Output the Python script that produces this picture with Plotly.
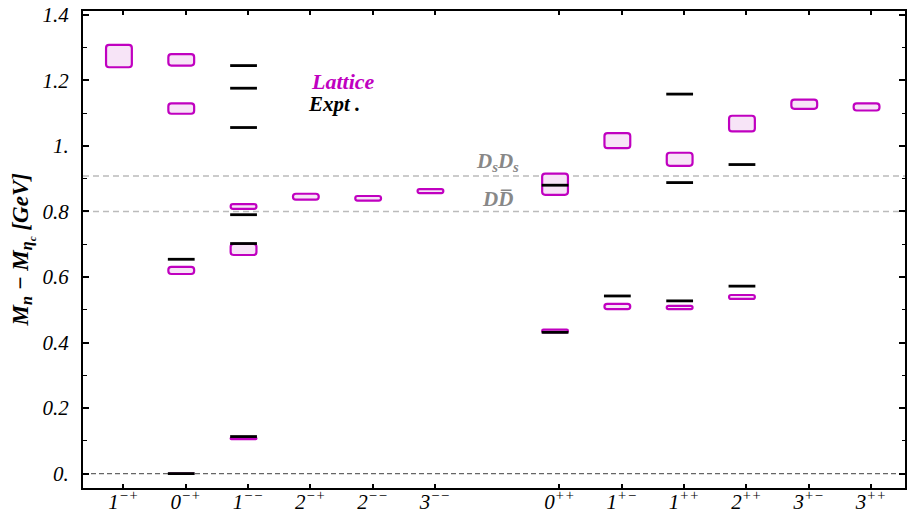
import plotly.graph_objects as go

# Quantum-number channels along the x axis (two groups separated by a gap)
channels = ["1<sup>−+</sup>", "0<sup>−+</sup>", "1<sup>−−</sup>", "2<sup>−+</sup>", "2<sup>−−</sup>", "3<sup>−−</sup>",
            "0<sup>++</sup>", "1<sup>+−</sup>", "1<sup>++</sup>", "2<sup>++</sup>", "3<sup>+−</sup>", "3<sup>++</sup>"]
channel_pos = [0, 1, 2, 3, 4, 5, 7, 8, 9, 10, 11, 12]

# Lattice mass splittings M_n - M_eta_c (GeV) and their uncertainties, per channel
lattice_mass = [
    [1.274],
    [0.0, 0.620, 1.114, 1.2625],
    [0.107, 0.684, 0.815],
    [0.845],
    [0.840],
    [0.862],
    [0.435, 0.883],
    [0.510, 1.016],
    [0.507, 0.959],
    [0.539, 1.068],
    [1.127],
    [1.119],
]
lattice_err = [
    [0.034],
    [0.0, 0.011, 0.016, 0.0175],
    [0.002, 0.017, 0.007],
    [0.009],
    [0.007],
    [0.006],
    [0.004, 0.0325],
    [0.008, 0.023],
    [0.005, 0.020],
    [0.006, 0.024],
    [0.014],
    [0.011],
]

# Experimental mass splittings (GeV)
expt_mass = [
    [],
    [0.0, 0.654],
    [0.113, 0.702, 0.790, 1.056, 1.176, 1.245],
    [],
    [],
    [],
    [0.431, 0.880],
    [0.542],
    [0.527, 0.888, 1.158],
    [0.572, 0.943],
    [],
    [],
]

# Two-meson thresholds (GeV)
threshold_dd = 0.800
threshold_dsds = 0.908

y_ticks = [0.0, 0.2, 0.4, 0.6, 0.8, 1.0, 1.2, 1.4]
y_tick_text = ["0.", "0.2", "0.4", "0.6", "0.8", "1.", "1.2", "1.4"]

# ---- geometry / style ----
W, H = 909, 511
M_L, M_R, M_T, M_B = 83, 4, 11, 23
X_RANGE = [-0.647, 12.547]
Y_RANGE = [-0.044, 1.4116]
MARK_SHIFT = -0.07        # levels sit slightly left of the tick
BOX_HALF = 0.207
LINE_HALF = 0.215
MAGENTA = "#c000c0"
PINK = "#f7e4f7"
GRAY_TXT = "#888888"

PLOT_W = W - M_L - M_R
PLOT_H = H - M_T - M_B
px_x = PLOT_W / (X_RANGE[1] - X_RANGE[0])
px_y = PLOT_H / (Y_RANGE[1] - Y_RANGE[0])


def rounded_box(xc, y0, y1, hw, r_px=3.0):
    x0, x1 = xc - hw, xc + hw
    h_px = (y1 - y0) * px_y
    r = min(r_px, h_px / 2.0)
    if r <= 0.05:
        return f"M{x0},{y0} L{x1},{y0} L{x1},{y1} L{x0},{y1} Z"
    rx, ry = r / px_x, r / px_y
    return (f"M{x0 + rx},{y0} L{x1 - rx},{y0} Q{x1},{y0} {x1},{y0 + ry} "
            f"L{x1},{y1 - ry} Q{x1},{y1} {x1 - rx},{y1} L{x0 + rx},{y1} "
            f"Q{x0},{y1} {x0},{y1 - ry} L{x0},{y0 + ry} Q{x0},{y0} {x0 + rx},{y0} Z")


shapes = []
# reference lines: zero and thresholds
shapes.append(dict(type="line", xref="paper", yref="y", x0=0, x1=1, y0=0, y1=0,
                   line=dict(color="#666666", width=1.3, dash="5px,3px"), layer="below"))
for thr in (threshold_dsds, threshold_dd):
    shapes.append(dict(type="line", xref="paper", yref="y", x0=0, x1=1, y0=thr, y1=thr,
                       line=dict(color="#bbbbbb", width=1.5, dash="6px,4px"), layer="below"))

# lattice levels as rounded boxes
for pos, masses, errs in zip(channel_pos, lattice_mass, lattice_err):
    xc = pos + MARK_SHIFT
    for m, e in zip(masses, errs):
        shapes.append(dict(type="path", xref="x", yref="y",
                           path=rounded_box(xc, m - e, m + e, BOX_HALF),
                           fillcolor=PINK, line=dict(color=MAGENTA, width=2.2), layer="below"))

fig = go.Figure()

# experimental levels as short black bars
ex, ey = [], []
for pos, masses in zip(channel_pos, expt_mass):
    xc = pos + MARK_SHIFT
    for m in masses:
        ex += [xc - LINE_HALF, xc + LINE_HALF, None]
        ey += [m, m, None]
fig.add_trace(go.Scatter(x=ex, y=ey, mode="lines", line=dict(color="black", width=2.8),
                         hoverinfo="skip", showlegend=False))

serif = "Liberation Serif"
annotations = [
    dict(text="Lattice", xref="paper", yref="paper", x=(309 - M_L) / PLOT_W,
         y=(H - M_B - 81) / PLOT_H, xanchor="left", yanchor="middle", showarrow=False,
         font=dict(family=serif, size=22, color=MAGENTA, style="italic", weight="bold")),
    dict(text="Expt .", xref="paper", yref="paper", x=(306 - M_L) / PLOT_W,
         y=(H - M_B - 104) / PLOT_H, xanchor="left", yanchor="middle", showarrow=False,
         font=dict(family=serif, size=21, color="black", style="italic", weight="bold")),
    dict(text="D<sub>s</sub>D<sub>s</sub>", xref="paper", yref="y", x=(497 - M_L) / PLOT_W,
         y=threshold_dsds, yshift=14, xanchor="center", yanchor="middle", showarrow=False,
         font=dict(family=serif, size=21, color=GRAY_TXT, style="italic", weight="bold")),
    dict(text="DD\u0305", xref="paper", yref="y", x=(497 - M_L) / PLOT_W,
         y=threshold_dd, yshift=12, xanchor="center", yanchor="middle", showarrow=False,
         font=dict(family=serif, size=21, color=GRAY_TXT, style="italic", weight="bold")),
    dict(text="M<sub>n</sub> − M<sub>η<sub>c</sub></sub> [GeV]", xref="paper", yref="paper",
         x=(22 - M_L) / PLOT_W, y=0.5, xanchor="center", yanchor="middle",
         textangle=-90, showarrow=False,
         font=dict(family=serif, size=23, color="black", style="italic", weight="bold")),
]

fig.update_layout(
    width=W, height=H,
    margin=dict(l=M_L, r=M_R, t=M_T, b=M_B, autoexpand=False),
    paper_bgcolor="white", plot_bgcolor="white",
    shapes=shapes, annotations=annotations,
    showlegend=False,
    xaxis=dict(range=X_RANGE, tickmode="array", tickvals=channel_pos, ticktext=channels,
               automargin=False,
               showgrid=False, zeroline=False, showline=True, linecolor="black", linewidth=2,
               mirror="allticks", ticks="inside", ticklen=4, tickwidth=1.5, tickcolor="black",
               ticklabelstandoff=-6,
               tickfont=dict(family=serif, size=21, color="black", style="italic")),
    yaxis=dict(range=Y_RANGE, tickmode="array", tickvals=y_ticks, ticktext=y_tick_text,
               automargin=False,
               showgrid=False, zeroline=False, showline=True, linecolor="black", linewidth=2,
               mirror="allticks", ticks="inside", ticklen=6, tickwidth=1.5, tickcolor="black",
               minor=dict(dtick=0.1, ticks="inside", ticklen=3.5, tickwidth=1.2, tickcolor="black",
                          showgrid=False),
               ticklabelstandoff=8,
               tickfont=dict(family=serif, size=21, color="black", style="italic")),
)

fig.write_html("out.html")
